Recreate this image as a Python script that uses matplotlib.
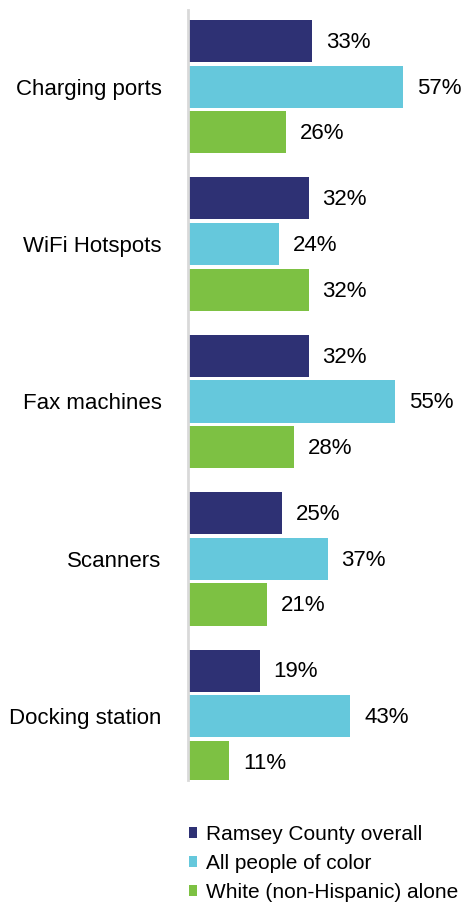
import matplotlib.pyplot as plt
import numpy as np

plt.rcParams['font.family'] = ['Liberation Sans', 'DejaVu Sans']

# data
categories = ["Charging ports", "WiFi Hotspots", "Fax machines", "Scanners", "Docking station"]
ramsey = [33, 32, 32, 25, 19]
poc = [57, 24, 55, 37, 43]
white = [26, 32, 28, 21, 11]
series_names = ["Ramsey County overall", "All people of color", "White (non-Hispanic) alone"]
colors = ["#2E3174", "#65C8DC", "#7DC143"]

fig = plt.figure(figsize=(4.69, 9.09), dpi=100)
ax = fig.add_axes([188 / 469, 1 - 780 / 909, 281 / 469, 770 / 909])

y = np.arange(len(categories))
offsets = [-0.29, 0.0, 0.29]
bar_h = 0.268
handles = []
for vals, off, col, name in zip([ramsey, poc, white], offsets, colors, series_names):
    bars = ax.barh(y + off, vals, height=bar_h, color=col, label=name)
    handles.append(bars)
    for yy, v in zip(y + off, vals):
        ax.annotate(f"{v}%", (v, yy), xytext=(10, -1), textcoords="offset points",
                    va="center", ha="left", fontsize=16, color="black")

ax.set_xlim(0, 74.5)
ax.set_ylim(4.405, -0.487)
ax.set_yticks(y)
ax.set_yticklabels(categories, fontsize=16)
ax.tick_params(axis="y", length=0, pad=19)
ax.set_xticks([])
for side in ["top", "right", "bottom"]:
    ax.spines[side].set_visible(False)
ax.spines["left"].set_color("#D9D9D9")
ax.spines["left"].set_linewidth(2)

fig.legend(handles=handles, labels=series_names, loc="upper left",
           bbox_to_anchor=(170 / 469, 1 - 806 / 909), frameon=False, fontsize=15,
           handlelength=0.4, handleheight=0.4, handletextpad=0.45, labelspacing=0.48)

fig.savefig("out.png", dpi=100)
